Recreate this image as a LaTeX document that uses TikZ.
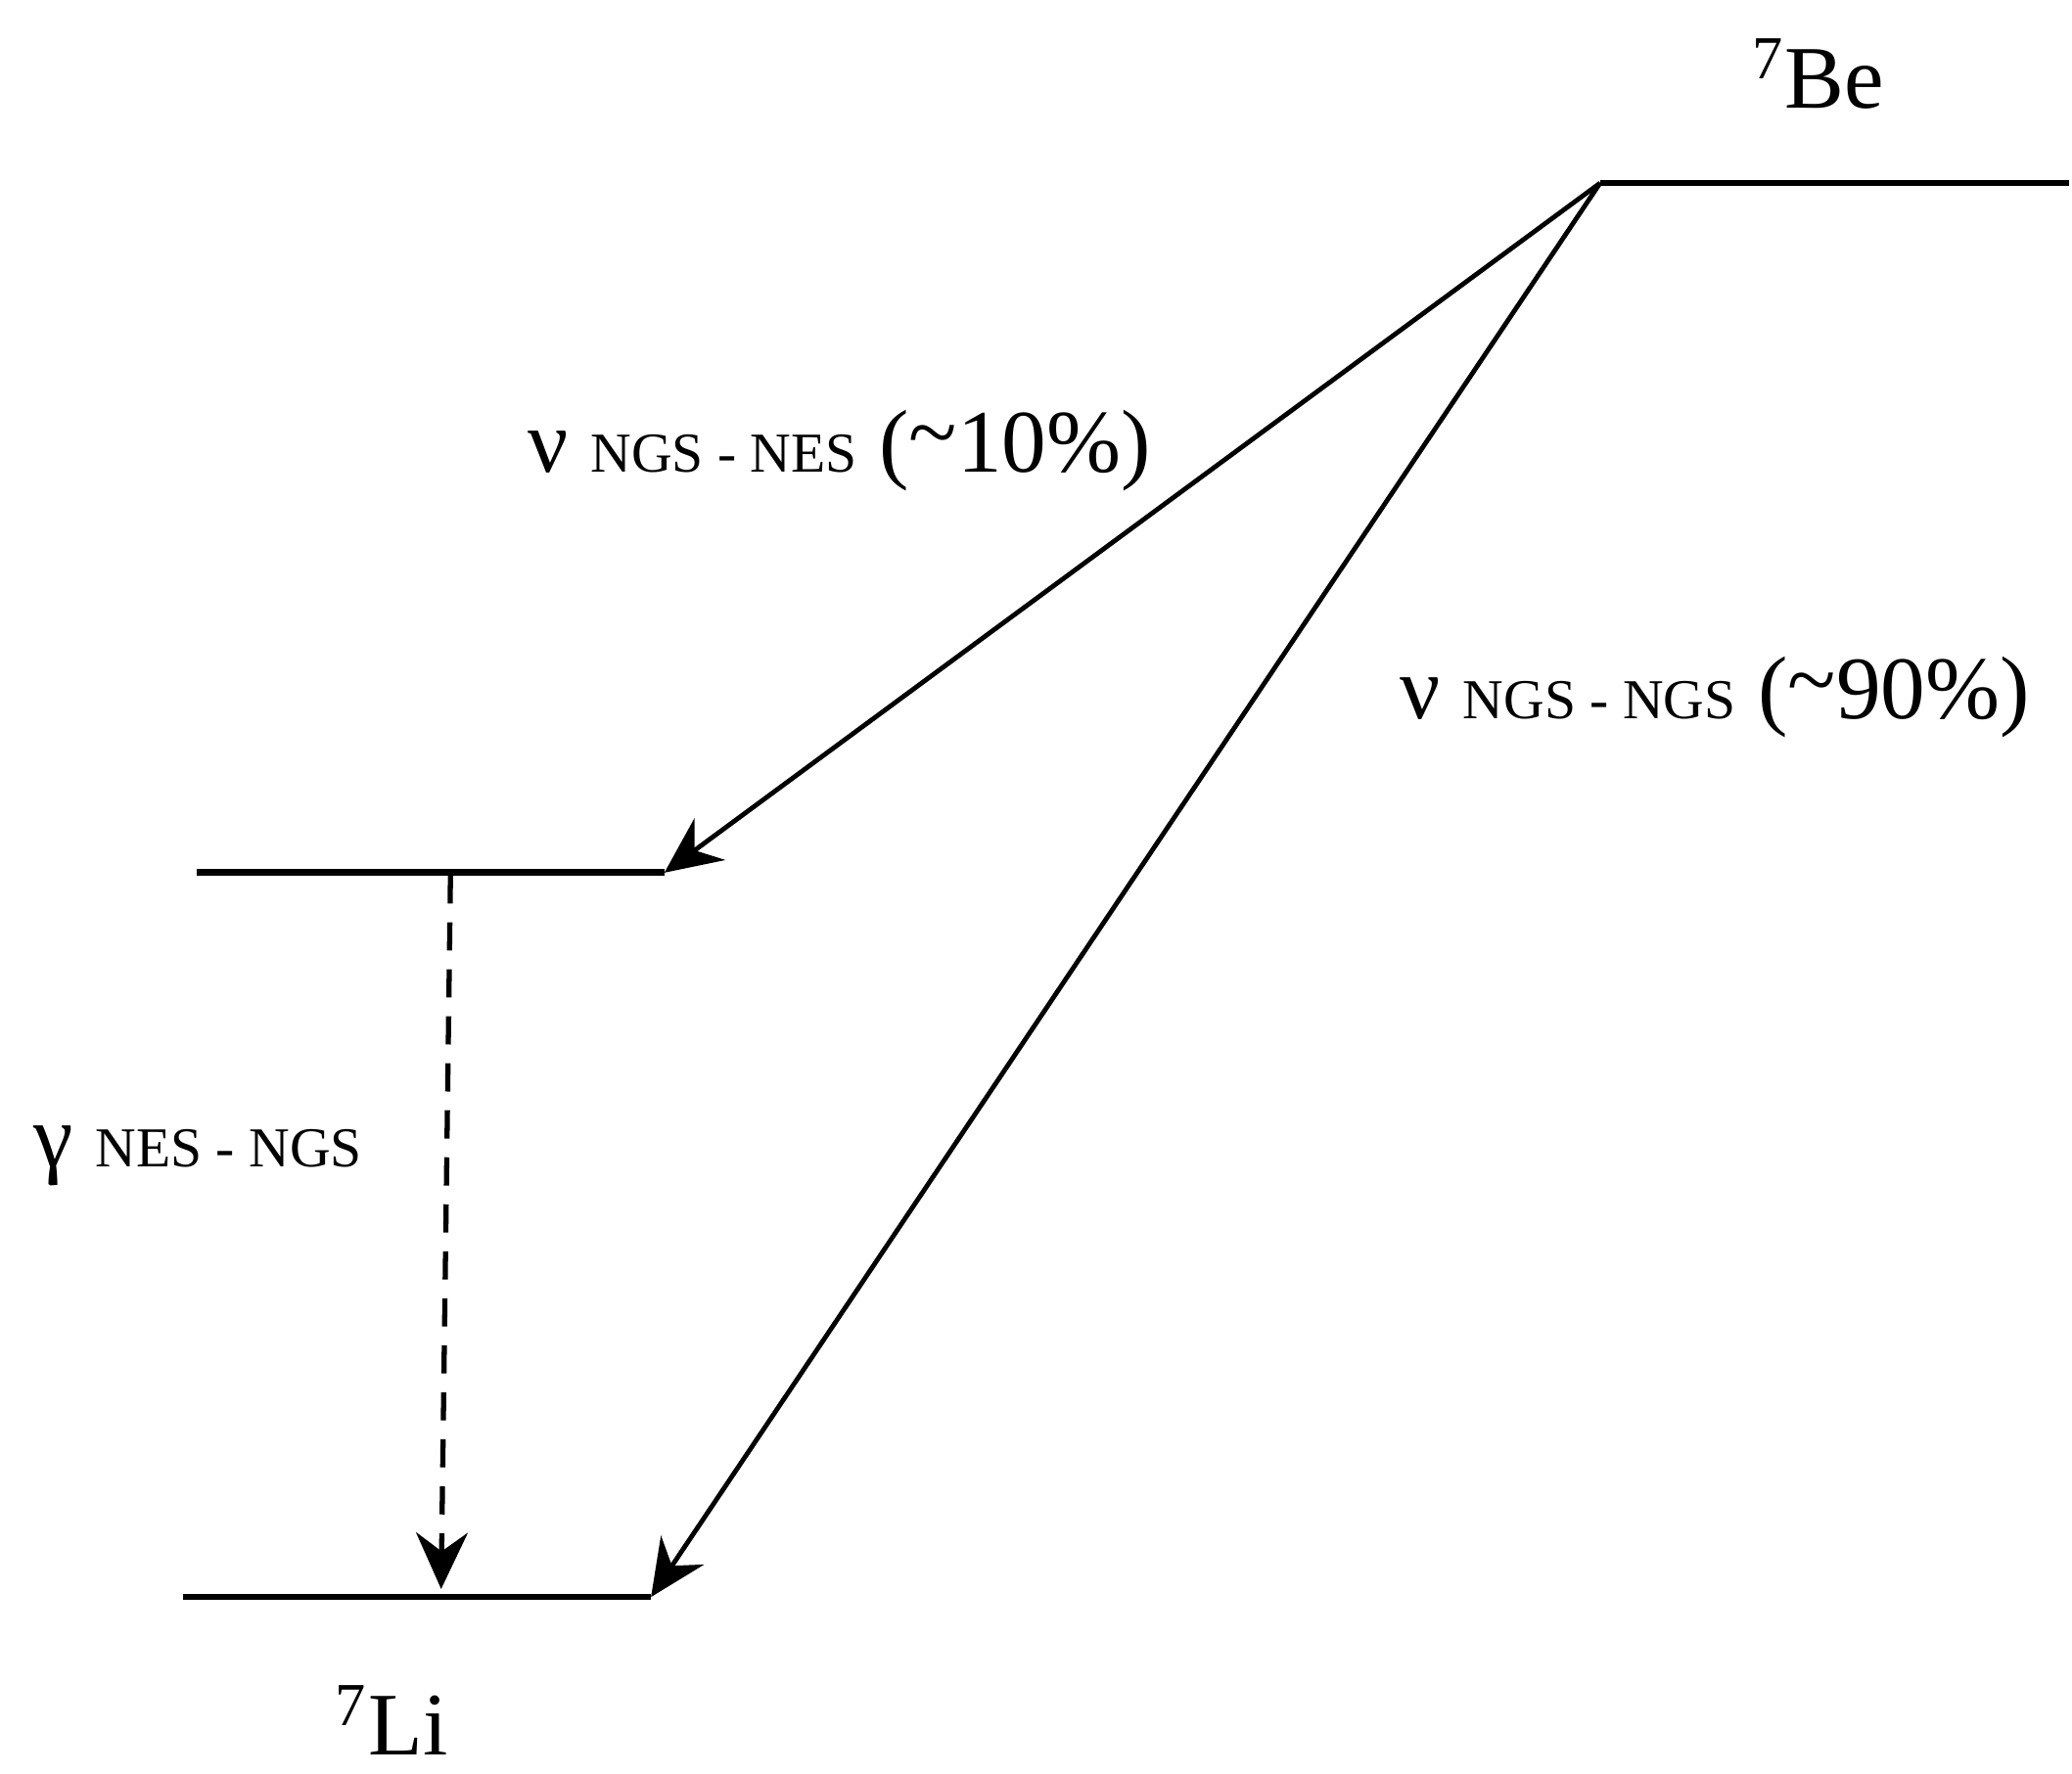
\documentclass[tikz,border=0pt]{standalone}
\usepackage{fontspec}
\setmainfont{Liberation Serif}
\usetikzlibrary{arrows.meta}
\begin{document}
\begin{tikzpicture}[x=0.01cm,y=0.01cm,
  level/.style={line width=1.4pt},
  trans/.style={line width=1pt,-{Stealth[length=12pt,width=11pt,inset=4pt]}},
  lbl/.style={font=\fontsize{19}{23}\selectfont, inner sep=0pt}]
\useasboundingbox (0,0) rectangle (1550,1327);
\coordinate (be1) at (1197,1190); \coordinate (be2) at (1548,1190);
\coordinate (ne1) at (147,674); \coordinate (ne2) at (497,674);
\coordinate (li1) at (137,132); \coordinate (li2) at (487,132);
\coordinate (ds) at (337,672); \coordinate (de) at (330,138);
\draw[level] (be1) -- (be2);
\draw[level] (ne1) -- (ne2);
\draw[level] (li1) -- (li2);
\draw[trans] (be1) -- (ne2);
\draw[trans] (be1) -- (li2);
\draw[trans,line width=1.1pt,dash pattern=on 6pt off 4pt] (ds) -- (de);
\node[lbl] (tbe) at (1360,1272) {\textsuperscript{\fontsize{13}{16}\selectfont 7}Be};
\node[lbl] (tli) at (293,40) {\textsuperscript{\fontsize{13}{16}\selectfont 7}Li};
\node[lbl] (t1) at (628,990) {ν {\fontsize{12}{16}\selectfont NGS - NES} (\raisebox{2pt}{\textasciitilde}10\%)};
\node[lbl] (t2) at (1283,805) {ν {\fontsize{12}{16}\selectfont NGS - NGS} (\raisebox{2pt}{\textasciitilde}90\%)};
\node[lbl] (t3) at (148,462) {γ {\fontsize{12}{16}\selectfont NES - NGS}};
\end{tikzpicture}
\end{document}
